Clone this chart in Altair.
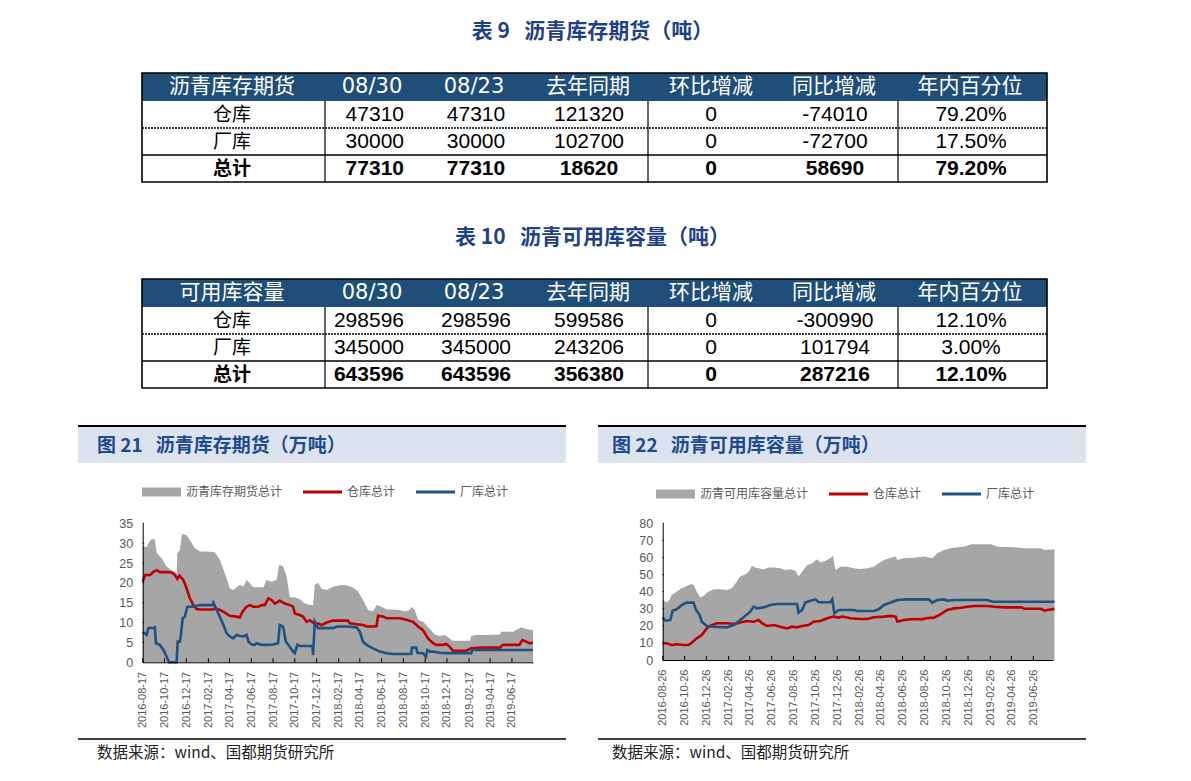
import altair as alt
import pandas as pd

W, H = 1191, 781
SP = "\u00a0"

# ---------------- table data ----------------
t1_title = "表" + SP + "9" + SP * 3 + "沥青库存期货（吨）"
t1_header = ["沥青库存期货", "08/30", "08/23", "去年同期", "环比增减", "同比增减", "年内百分位"]
t1_rows = ["仓库", "厂库", "总计"]
t1_0830 = [47310, 30000, 77310]
t1_0823 = [47310, 30000, 77310]
t1_lastyear = [121320, 102700, 18620]
t1_wow = [0, 0, 0]
t1_yoy = [-74010, -72700, 58690]
t1_pct = ["79.20%", "17.50%", "79.20%"]

t2_title = "表" + SP + "10" + SP * 3 + "沥青可用库容量（吨）"
t2_header = ["可用库容量", "08/30", "08/23", "去年同期", "环比增减", "同比增减", "年内百分位"]
t2_rows = ["仓库", "厂库", "总计"]
t2_0830 = [298596, 345000, 643596]
t2_0823 = [298596, 345000, 643596]
t2_lastyear = [599586, 243206, 356380]
t2_wow = [0, 0, 0]
t2_yoy = [-300990, 101794, 287216]
t2_pct = ["12.10%", "3.00%", "12.10%"]

# ---------------- figure texts ----------------
fig21_title = "图" + SP + "21" + SP * 3 + "沥青库存期货（万吨）"
fig22_title = "图" + SP + "22" + SP * 3 + "沥青可用库容量（万吨）"
fig21_legend = ["沥青库存期货总计", "仓库总计", "厂库总计"]
fig22_legend = ["沥青可用库容量总计", "仓库总计", "厂库总计"]
source_text = "数据来源：wind、国都期货研究所"

fig21_start, fig21_end = "2016-08-17", "2019-08-15"
fig22_start, fig22_end = "2016-08-26", "2019-08-20"
fig21_ticks = ["2016-08-17", "2016-10-17", "2016-12-17", "2017-02-17", "2017-04-17", "2017-06-17",
               "2017-08-17", "2017-10-17", "2017-12-17", "2018-02-17", "2018-04-17", "2018-06-17",
               "2018-08-17", "2018-10-17", "2018-12-17", "2019-02-17", "2019-04-17", "2019-06-17"]
fig22_ticks = ["2016-08-26", "2016-10-26", "2016-12-26", "2017-02-26", "2017-04-26", "2017-06-26",
               "2017-08-26", "2017-10-26", "2017-12-26", "2018-02-26", "2018-04-26", "2018-06-26",
               "2018-08-26", "2018-10-26", "2018-12-26", "2019-02-26", "2019-04-26", "2019-06-26"]
fig21_yticks = [0, 5, 10, 15, 20, 25, 30, 35]
fig22_yticks = [0, 10, 20, 30, 40, 50, 60, 70, 80]

# ---------------- series (days since start, value in 万吨) ----------------
f21_total_days = [0, 11, 19, 25, 34, 39, 53, 67, 81, 93, 95, 97, 104, 110, 123, 132, 146, 160, 179, 202,
                  216, 230, 244, 254, 263, 272, 282, 291, 300, 310, 324, 338, 347, 361, 375, 382, 393,
                  403, 412, 426, 440, 454, 468, 477, 482, 491, 501, 515, 533, 552, 571, 589, 603, 617,
                  631, 645, 655, 669, 683, 701, 720, 734, 748, 752, 762, 771, 785, 794, 804, 818, 832,
                  846, 860, 867, 888, 906, 917, 920, 934, 962, 1000, 1004, 1037, 1060, 1074, 1093]
f21_total = [29.3, 29.0, 30.4, 31.0, 31.0, 27.6, 26.2, 24.1, 23.2, 22.6, 22.3, 27.4, 28.3, 32.3, 32.0,
             30.8, 28.7, 27.9, 27.9, 27.7, 25.8, 22.4, 18.6, 18.2, 18.9, 19.5, 19.0, 20.7, 19.9, 18.9,
             18.9, 18.9, 20.7, 20.3, 20.7, 24.5, 24.2, 21.6, 16.4, 16.4, 15.9, 14.8, 14.4, 14.4, 19.5,
             20.0, 18.5, 18.2, 19.0, 19.4, 19.4, 18.8, 17.8, 15.7, 13.2, 12.8, 14.4, 14.0, 13.3, 13.3,
             13.2, 12.8, 13.2, 14.0, 13.2, 10.7, 10.2, 9.4, 8.4, 7.0, 6.6, 6.9, 6.0, 5.4, 5.4, 5.4,
             5.4, 6.6, 6.9, 6.9, 7.0, 7.7, 7.7, 8.8, 8.4, 8.1]
f21_wh_days = [0, 7, 21, 30, 39, 48, 67, 81, 90, 97, 103, 114, 123, 132, 142, 151, 160, 179, 198, 202,
               216, 230, 244, 263, 272, 280, 291, 300, 310, 324, 333, 342, 352, 361, 370, 384, 398,
               412, 421, 426, 440, 449, 459, 468, 477, 485, 491, 501, 515, 533, 552, 575, 580, 599,
               617, 627, 645, 655, 659, 673, 683, 701, 720, 738, 757, 771, 785, 799, 813, 822, 841,
               850, 860, 869, 888, 906, 920, 953, 1000, 1009, 1055, 1063, 1074, 1083, 1093]
f21_wh = [20.3, 22.0, 22.0, 22.8, 23.2, 22.7, 22.7, 22.6, 22.0, 21.0, 21.8, 20.7, 18.6, 16.1, 14.4,
          13.4, 13.3, 13.3, 13.3, 13.6, 13.2, 12.5, 11.7, 11.5, 11.3, 12.8, 14.0, 14.4, 14.0, 14.0,
          14.4, 14.4, 16.1, 15.7, 14.8, 15.5, 14.8, 14.4, 14.0, 12.3, 11.9, 11.5, 10.2, 10.6, 10.0,
          9.4, 9.8, 9.4, 10.0, 10.5, 10.5, 10.5, 9.8, 9.6, 9.4, 9.0, 9.0, 9.1, 11.7, 11.5, 11.1,
          11.1, 11.1, 10.7, 10.2, 9.0, 8.1, 6.0, 4.8, 4.4, 4.4, 4.6, 3.9, 2.9, 2.9, 2.9, 3.5, 3.7,
          3.7, 4.4, 4.4, 5.6, 5.2, 4.8, 4.9]
f21_fac_days = [0, 11, 16, 25, 30, 34, 37, 48, 58, 67, 74, 95, 98, 104, 107, 112, 118, 125, 142, 160,
                179, 196, 198, 207, 216, 226, 235, 244, 254, 263, 272, 282, 291, 296, 305, 314, 319,
                333, 347, 366, 379, 384, 393, 401, 412, 421, 426, 433, 440, 459, 476, 477, 482, 491,
                515, 533, 545, 571, 599, 608, 617, 627, 645, 664, 683, 701, 720, 752, 754, 766, 769,
                785, 793, 797, 804, 813, 832, 850, 888, 920, 923, 1000, 1093]
f21_fac = [7.7, 6.9, 8.6, 8.7, 8.6, 8.8, 4.8, 4.4, 3.1, 1.4, 0.0, 0.0, 5.2, 5.2, 6.9, 11.1, 11.5,
           14.0, 14.0, 14.4, 14.4, 14.4, 15.0, 13.2, 11.5, 9.4, 7.3, 6.5, 6.0, 6.9, 6.6, 6.5, 6.9,
           5.2, 4.5, 4.4, 4.8, 4.4, 4.4, 4.5, 4.8, 9.4, 9.0, 5.2, 3.9, 2.7, 2.3, 4.4, 4.1, 4.1, 4.1,
           1.8, 10.2, 8.6, 8.6, 8.6, 9.0, 9.0, 8.8, 7.7, 5.2, 4.4, 3.5, 2.7, 2.3, 2.1, 2.1, 2.1, 3.7,
           3.7, 2.4, 2.3, 1.4, 3.1, 2.7, 2.7, 2.4, 2.3, 2.3, 2.3, 3.1, 3.1, 3.1]

f22_total_days = [0, 11, 19, 25, 39, 53, 67, 81, 86, 95, 104, 114, 123, 142, 160, 179, 193, 202, 216,
                  230, 240, 249, 258, 268, 282, 296, 310, 328, 342, 356, 370, 379, 389, 403, 417, 431,
                  440, 454, 468, 475, 482, 496, 515, 533, 552, 571, 589, 603, 617, 636, 650, 655, 673,
                  701, 729, 752, 766, 785, 804, 822, 841, 860, 888, 916, 934, 981, 1009, 1055, 1065, 1093]
f22_total = [35.1, 33.6, 35.1, 38.0, 40.0, 42.0, 43.3, 44.5, 43.9, 40.0, 36.7, 37.5, 39.4, 41.4, 41.4,
             41.0, 42.0, 44.5, 48.8, 50.1, 51.7, 55.2, 54.2, 53.7, 53.1, 54.2, 54.2, 53.7, 52.7, 53.1,
             52.3, 48.8, 51.7, 55.6, 56.6, 58.9, 57.0, 58.1, 59.5, 61.0, 52.7, 54.6, 54.6, 53.7, 53.3,
             53.7, 54.6, 56.6, 58.5, 59.9, 60.5, 58.5, 59.5, 59.9, 60.5, 59.5, 62.4, 64.4, 65.4, 66.0,
             66.3, 67.7, 67.7, 67.7, 66.3, 66.0, 65.4, 65.4, 64.4, 64.8]
f22_wh_days = [0, 11, 25, 39, 58, 72, 81, 95, 109, 123, 132, 151, 179, 202, 216, 235, 254, 268, 277,
               291, 310, 328, 347, 361, 375, 389, 407, 421, 440, 459, 476, 491, 501, 524, 552, 571,
               589, 617, 636, 650, 655, 673, 701, 724, 734, 757, 776, 794, 813, 832, 850, 869, 906,
               925, 953, 1000, 1009, 1055, 1065, 1074, 1093]
f22_wh = [9.8, 9.8, 8.8, 9.2, 8.8, 8.8, 10.1, 12.7, 14.6, 18.5, 19.9, 21.5, 21.5, 21.1, 22.0, 22.8,
          22.4, 23.4, 21.5, 19.9, 20.5, 19.5, 18.5, 19.5, 19.1, 19.9, 20.5, 22.4, 22.8, 24.4, 25.4,
          24.8, 25.4, 24.4, 24.0, 24.0, 25.0, 25.4, 25.8, 25.4, 22.4, 23.4, 24.0, 23.8, 24.4, 24.8,
          26.9, 29.3, 30.2, 30.6, 31.2, 31.6, 31.6, 31.2, 30.8, 30.8, 30.0, 30.0, 28.9, 29.3, 29.9]
f22_fac_days = [0, 7, 21, 28, 39, 53, 67, 86, 93, 103, 109, 123, 142, 179, 198, 216, 230, 244, 254,
                263, 282, 300, 319, 347, 375, 379, 389, 398, 412, 426, 435, 468, 473, 479, 491, 533,
                543, 589, 603, 617, 636, 655, 683, 720, 743, 752, 766, 785, 793, 813, 841, 906, 920,
                1000, 1093]
f22_fac = [25.0, 23.0, 23.4, 28.9, 29.7, 32.2, 33.6, 33.6, 29.3, 26.3, 22.4, 19.9, 19.5, 19.1, 20.5,
           23.4, 25.8, 28.3, 31.2, 30.2, 30.8, 32.2, 32.8, 32.8, 32.8, 27.7, 29.3, 33.6, 34.7, 35.5,
           33.8, 33.8, 35.5, 27.3, 29.3, 29.3, 28.7, 28.7, 29.7, 32.2, 33.6, 35.1, 35.5, 35.5, 35.5,
           33.6, 35.1, 35.5, 34.7, 35.1, 35.1, 35.1, 34.1, 34.1, 34.1]

# ---------------- styling ----------------
CN = "Noto Sans CJK SC"
NUM = "Liberation Sans Narrow, Liberation Sans"
HNUM = "DejaVu Sans"
AXF = "Liberation Sans"
TITLE_C = "#1F3F87"
PANEL_C = "#1F4A8E"
HDR_FILL = "#1F4E79"
GRAY = "#A6A6A6"
RED = "#C00000"
BLUE = "#1F5283"

PX = alt.Scale(domain=[0, W], range=[0, W], nice=False, zero=False)
PY = alt.Scale(domain=[0, H], range=[0, H], nice=False, zero=False)


def enc_xy(xf="x", yf="y"):
    return dict(x=alt.X(xf, type="quantitative", scale=PX, axis=None),
                y=alt.Y(yf, type="quantitative", scale=PY, axis=None))


# table layout (pixels)
T_LEFT, T_RIGHT = 142, 1047
T1_TOP, T2_TOP = 73, 279
HDR_H, ROW_H = 28, 27
hdr_cx = [232, 372, 474, 588, 711, 834, 970]
col_cx = [232, 404, 476, 589, 711, 835, 971]
col_div = [325, 648, 898]

cells = []
rects = []
outlines = []
rules = []
dashes = []


def add_table(title, header, rows, cols, top):
    cells.append(dict(x=(T_LEFT + T_RIGHT) / 2 - 2, y=top - 41, t=title, k="title", b=True))
    for j, h in enumerate(header):
        cells.append(dict(x=hdr_cx[j], y=top + HDR_H / 2, t=h, k="hnum" if j in (1, 2) else "hcn", b=False))
    for i, r in enumerate(rows):
        y = top + HDR_H + ROW_H * (i + 0.5)
        bold = i == len(rows) - 1
        cells.append(dict(x=col_cx[0], y=y, t=r, k="cn", b=bold))
        for j, col in enumerate(cols, start=1):
            cells.append(dict(x=col_cx[j], y=y, t=str(col[i]), k="numr" if j == 1 else "num", b=bold))
    bottom = top + HDR_H + ROW_H * 3
    rects.append(dict(x=T_LEFT, x2=T_RIGHT, y=top, y2=top + HDR_H, c=HDR_FILL))
    outlines.append(dict(x=T_LEFT, x2=T_RIGHT, y=top, y2=bottom))
    for cx in col_div:
        rules.append(dict(x=cx, x2=cx, y=top + HDR_H, y2=bottom, c="#000000", w=1.2))
    dashes.append(dict(x=T_LEFT, x2=T_RIGHT, y=top + HDR_H + ROW_H, y2=top + HDR_H + ROW_H))
    rules.append(dict(x=T_LEFT, x2=T_RIGHT, y=top + HDR_H + 2 * ROW_H, y2=top + HDR_H + 2 * ROW_H,
                      c="#000000", w=1.5))


add_table(t1_title, t1_header, t1_rows, [t1_0830, t1_0823, t1_lastyear, t1_wow, t1_yoy, t1_pct], T1_TOP)
add_table(t2_title, t2_header, t2_rows, [t2_0830, t2_0823, t2_lastyear, t2_wow, t2_yoy, t2_pct], T2_TOP)

# panels layout (pixels)
panels = [dict(x0=78, x1=566, title=fig21_title, tx=97, leg=fig21_legend, ly=492,
               lg=[142, 303, 416], lw=39),
          dict(x0=598, x1=1086, title=fig22_title, tx=612, leg=fig22_legend, ly=494,
               lg=[656, 829, 942], lw=39)]
for p in panels:
    rects.append(dict(x=p["x0"], x2=p["x1"], y=427, y2=463, c="#DCE3EF"))
    rules.append(dict(x=p["x0"], x2=p["x1"], y=426, y2=426, c="#000000", w=2))
    rules.append(dict(x=p["x0"], x2=p["x1"], y=739, y2=739, c="#404040", w=2))
    cells.append(dict(x=p["tx"], y=446, t=p["title"], k="ptitle", b=True))
    cells.append(dict(x=p["tx"], y=753, t=source_text, k="src", b=False))
    g0, g1, g2 = p["lg"]
    rects.append(dict(x=g0, x2=g0 + p["lw"], y=p["ly"] - 4.5, y2=p["ly"] + 4.5, c=GRAY))
    rules.append(dict(x=g1, x2=g1 + p["lw"], y=p["ly"], y2=p["ly"], c=RED, w=3))
    rules.append(dict(x=g2, x2=g2 + p["lw"], y=p["ly"], y2=p["ly"], c=BLUE, w=3))
    for gx, lab in zip(p["lg"], p["leg"]):
        cells.append(dict(x=gx + p["lw"] + 5, y=p["ly"], t=lab, k="leg", b=False))

cells_df = pd.DataFrame(cells)
rects_df = pd.DataFrame(rects)
outl_df = pd.DataFrame(outlines)
rules_df = pd.DataFrame(rules)
dash_df = pd.DataFrame(dashes)


def rect_enc():
    e = enc_xy()
    e["x2"] = alt.X2("x2")
    e["y2"] = alt.Y2("y2")
    return e


layout_layers = [
    alt.Chart(rects_df).mark_rect().encode(color=alt.Color("c:N", scale=None), **rect_enc()),
    alt.Chart(rules_df).mark_rule().encode(color=alt.Color("c:N", scale=None),
                                           strokeWidth=alt.StrokeWidth("w:Q", scale=None), **rect_enc()),
    alt.Chart(dash_df).mark_rule(color="#000000", strokeWidth=1.5, strokeDash=[2, 1]).encode(**rect_enc()),
    alt.Chart(outl_df).mark_rect(fillOpacity=0, stroke="#000000", strokeWidth=1.6).encode(**rect_enc()),
]


def text_layer(kind, bold, **props):
    df = cells_df[(cells_df.k == kind) & (cells_df.b == bold)]
    if len(df) == 0:
        return None
    return alt.Chart(df).mark_text(baseline="middle", fontWeight="bold" if bold else "normal",
                                   **props).encode(text="t:N", **enc_xy())


text_specs = [
    ("title", True, dict(font=CN, fontSize=21, color=TITLE_C, align="center")),
    ("ptitle", True, dict(font=CN, fontSize=19, color=PANEL_C, align="left")),
    ("hcn", False, dict(font=CN, fontSize=21, color="white", align="center")),
    ("hnum", False, dict(font=HNUM, fontSize=21, color="white", align="center")),
    ("cn", False, dict(font=CN, fontSize=19, color="#000000", align="center")),
    ("cn", True, dict(font=CN, fontSize=19, color="#000000", align="center")),
    ("num", False, dict(font=NUM, fontSize=21, color="#000000", align="center")),
    ("num", True, dict(font=NUM, fontSize=21, color="#000000", align="center")),
    ("numr", False, dict(font=NUM, fontSize=21, color="#000000", align="right")),
    ("numr", True, dict(font=NUM, fontSize=21, color="#000000", align="right")),
    ("leg", False, dict(font=CN, fontSize=12, color="#595959", align="left")),
    ("src", False, dict(font=CN, fontSize=15.5, color="#222222", align="left")),
]
for kind, bold, props in text_specs:
    lay = text_layer(kind, bold, **props)
    if lay is not None:
        layout_layers.append(lay)

layout = alt.layer(*layout_layers)


# ---------------- time-series panels ----------------
def dt(s):
    y, m, d = (int(v) for v in s.split("-"))
    return alt.DateTime(year=y, month=m, date=d, utc=True)


def series(start, days, vals, name):
    d = pd.Timestamp(start) + pd.to_timedelta(days, unit="D")
    return pd.DataFrame({"date": d.strftime("%Y-%m-%d"), "v": vals, "s": name})


def panel(start, end, ticks, yticks, ymax, xr, yr, tot, wh, fac, xtick_len, ytick_end):
    xs = alt.Scale(type="utc", domain=[dt(start), dt(end)], range=xr, nice=False)
    ys = alt.Scale(domain=[0, ymax], range=yr, nice=False, zero=True)
    xa = alt.Axis(orient="bottom", offset=yr[0] - H, values=[dt(t) for t in ticks], format="%Y-%m-%d",
                  labelAngle=270, labelFont=AXF, labelFontSize=11, labelColor="#595959",
                  labelPadding=9, labelOverlap=False, labelFlush=False, ticks=False,
                  domainColor="#000000", domainWidth=1, grid=False, title=None, zindex=1)
    ya = alt.Axis(orient="left", offset=-xr[0], values=yticks, labelFont=AXF, labelFontSize=12.5,
                  labelColor="#595959", labelPadding=10, ticks=False, domainColor="#000000",
                  domainWidth=1, grid=False, title=None, zindex=1)
    X = alt.X("date:T", scale=xs, axis=xa)
    Y = alt.Y("v:Q", scale=ys, axis=ya)
    area = alt.Chart(tot).mark_area(color=GRAY, opacity=1).encode(x=X, y=Y)
    l1 = alt.Chart(wh).mark_line(color=RED, strokeWidth=2.6).encode(x=X, y=Y)
    l2 = alt.Chart(fac).mark_line(color=BLUE, strokeWidth=2.6).encode(x=X, y=Y)
    xt = alt.Chart(pd.DataFrame({"date": ticks})).mark_rule(color="#000000", strokeWidth=1).encode(
        x=X, y=alt.YDatum(0, type="quantitative", scale=ys, axis=ya),
        y2=alt.Y2Datum(xtick_len))
    yt = alt.Chart(pd.DataFrame({"v": yticks})).mark_rule(color="#000000", strokeWidth=1).encode(
        y=Y, x=alt.XDatum(dt(start), type="temporal", scale=xs, axis=xa),
        x2=alt.X2Datum(dt(ytick_end)))
    return alt.layer(area, l1, l2, xt, yt)


left = panel(fig21_start, fig21_end, fig21_ticks, fig21_yticks, 35, [142.7, 533], [662.3, 523.3],
             series(fig21_start, f21_total_days, f21_total, fig21_legend[0]),
             series(fig21_start, f21_wh_days, f21_wh, fig21_legend[1]),
             series(fig21_start, f21_fac_days, f21_fac, fig21_legend[2]),
             1.0, "2016-08-21")
right = panel(fig22_start, fig22_end, fig22_ticks, fig22_yticks, 80, [662.7, 1053], [660.0, 523.3],
              series(fig22_start, f22_total_days, f22_total, fig22_legend[0]),
              series(fig22_start, f22_wh_days, f22_wh, fig22_legend[1]),
              series(fig22_start, f22_fac_days, f22_fac, fig22_legend[2]),
              2.4, "2016-08-30")

chart = alt.layer(layout, left, right).resolve_scale(
    x="independent", y="independent"
).properties(
    width=W, height=H, padding=0, background="white",
    autosize=alt.AutoSizeParams(type="none")
).configure_view(stroke=None)

chart.save("out.html", embed_options={"renderer": "svg", "actions": False})
